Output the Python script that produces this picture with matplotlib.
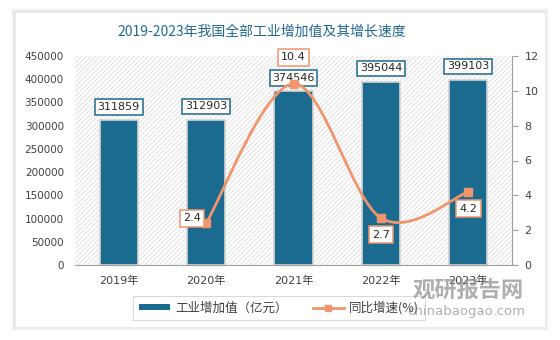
import numpy as np
import matplotlib.pyplot as plt
from matplotlib.patches import Rectangle, PathPatch
from matplotlib.path import Path
from matplotlib.lines import Line2D

plt.rcParams['font.family'] = ['DejaVu Sans', 'Noto Sans CJK SC']
plt.rcParams['hatch.linewidth'] = 0.6
CJK = ['Noto Sans CJK SC', 'DejaVu Sans']

years = ['2019年', '2020年', '2021年', '2022年', '2023年']
value_added = [311859, 312903, 374546, 395044, 399103]
growth_years = [1, 2, 3, 4]
growth = [2.4, 10.4, 2.7, 4.2]

BAR = '#1b6a8f'
LINE = '#f0956c'
TXT = '#404040'

fig = plt.figure(figsize=(5.6, 3.4), dpi=100)

# card with soft shadow
for k, a in enumerate([0.04, 0.05, 0.06, 0.08]):
    pad = (4 - k) / 560
    fig.patches.append(Rectangle((15 / 560 - pad, 13 / 340 - pad * 1.6),
                                 530 / 560 + 2 * pad, 315 / 340 + pad * 3.2,
                                 transform=fig.transFigure, facecolor='#808080',
                                 alpha=a, edgecolor='none', zorder=-10))
fig.patches.append(Rectangle((15 / 560, 13 / 340), 530 / 560, 315 / 340,
                             transform=fig.transFigure, facecolor='white',
                             edgecolor='#ececec', lw=0.6, zorder=-9))

ax = fig.add_axes([75 / 560, 75 / 340, 437 / 560, 209 / 340])
ax.set_facecolor('none')
ax.add_patch(Rectangle((0, 0), 1, 1, transform=ax.transAxes, facecolor='white',
                       edgecolor='#dcdcdc', hatch='///////', lw=0, zorder=0))

x = np.arange(len(years))
ax.bar(x, value_added, width=0.435, color=BAR, edgecolor='#d4d4d4', lw=1.2, zorder=2)
ax.set_xlim(-0.5, 4.5)
ax.set_ylim(0, 450000)
ax.set_yticks(np.arange(0, 450001, 50000))
ax.set_xticks(x)
ax.set_xticklabels(years)
for s in ['top', 'right', 'left']:
    ax.spines[s].set_visible(False)
ax.spines['bottom'].set_color('#a0a0a0')
ax.tick_params(axis='y', length=0, labelsize=7.5, labelcolor=TXT, pad=8)
ax.tick_params(axis='x', length=0, labelsize=8, labelcolor=TXT, pad=8)

for xi, v in zip(x, value_added):
    ax.annotate(f'{v}', (xi, v), xytext=(0, 9.5), textcoords='offset points',
                ha='center', va='center', fontsize=8, color='#262626', zorder=5,
                bbox=dict(boxstyle='square,pad=0.25', fc='white', ec=BAR, lw=1.1))

ax2 = ax.twinx()
ax2.set_ylim(0, 12)
ax2.set_yticks(np.arange(0, 13, 2))
for s in ['top', 'left', 'bottom']:
    ax2.spines[s].set_visible(False)
ax2.spines['right'].set_color('#a0a0a0')
ax2.tick_params(axis='y', length=4, color='#a0a0a0', labelsize=8, labelcolor=TXT, pad=5)

# smoothed line (Catmull-Rom style bezier through the data points)
px = np.array(growth_years, dtype=float)
py = np.array(growth, dtype=float)
pts = np.column_stack([px, py])
ext = np.vstack([pts[0], pts, pts[-1]])
verts = [tuple(pts[0])]
codes = [Path.MOVETO]
for i in range(1, len(ext) - 2):
    p0, p1, p2, p3 = ext[i - 1], ext[i], ext[i + 1], ext[i + 2]
    verts += [tuple(p1 + (p2 - p0) / 6), tuple(p2 - (p3 - p1) / 6), tuple(p2)]
    codes += [Path.CURVE4] * 3
ax2.add_patch(PathPatch(Path(verts, codes), fc='none', ec=LINE, lw=2, zorder=3))
ax2.plot(px, py, ls='none', marker='s', ms=6, color=LINE, zorder=4)

offsets = [(-10, 3.5), (0, 19), (0, -12), (0, -12)]
for xi, v, off in zip(px, py, offsets):
    ax2.annotate(f'{v}', (xi, v), xytext=off, textcoords='offset points',
                 ha='center', va='center', fontsize=8, color='#262626', zorder=5,
                 bbox=dict(boxstyle='square,pad=0.3', fc='white', ec=LINE, lw=1.1))

fig.text(262 / 560, 1 - 32 / 340, '2019-2023年我国全部工业增加值及其增长速度',
         ha='center', va='center', fontsize=10, color='#1f6a93', family=CJK)

# legend
h1 = Rectangle((0, 0), 1, 1, fc=BAR, ec='none')
h2 = Line2D([], [], color=LINE, lw=2, marker='s', ms=5)
leg = fig.legend([h1, h2], ['工业增加值（亿元）', '同比增速(%)'], loc='center',
                 bbox_to_anchor=(279 / 560, 1 - 308 / 340), ncol=2,
                 prop={'family': CJK, 'size': 9},
                 frameon=True, fancybox=False, edgecolor='#d0d0d0',
                 handlelength=2.5, handleheight=0.35, handletextpad=0.4,
                 columnspacing=2.0, borderpad=0.45, labelcolor=TXT)
leg.get_frame().set_linewidth(0.8)

# watermark
fig.text(468 / 560, 1 - 291 / 340, '观研报告网', ha='center', va='center',
         fontsize=16, color='#8c8c8c', alpha=0.7, fontweight='bold', zorder=10,
         family=CJK)
fig.text(466 / 560, 1 - 311 / 340, 'chinabaogao.com', ha='center', va='center',
         fontsize=9.5, color='#8c8c8c', alpha=0.7, zorder=10)

fig.savefig('out.png', dpi=100)
